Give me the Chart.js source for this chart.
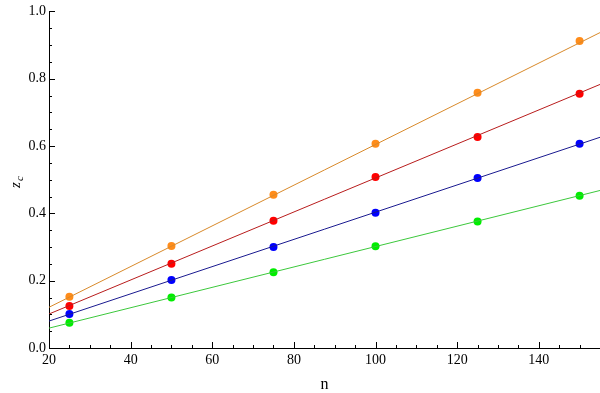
<!DOCTYPE html>
<html>
<head>
<meta charset="utf-8">
<script src="https://cdn.jsdelivr.net/npm/chart.js@4"></script>
<style>
    html, body { margin: 0; padding: 0; background: #ffffff; }
    #wrap { width: 600px; height: 393px; }
</style>
</head>
<body>
<div id="wrap"><canvas id="chart"></canvas></div>
<script>
// Sample points (n values) and measured z_c per series
const nValues = [25, 50, 75, 100, 125, 150];
const orangeZ = [0.152, 0.303, 0.455, 0.607, 0.758, 0.912];
const redZ = [0.125, 0.250, 0.378, 0.508, 0.627, 0.755];
const blueZ = [0.101, 0.202, 0.300, 0.402, 0.505, 0.607];
const greenZ = [0.075, 0.150, 0.225, 0.302, 0.376, 0.452];

// Fit lines, read at the plot edges
const lineN = [20, 155];
const orangeFit = [0.121, 0.937];
const redFit = [0.101, 0.783];
const blueFit = [0.080, 0.626];
const greenFit = [0.059, 0.468];

// Axis tick labels
const xTicks = [20, 40, 60, 80, 100, 120, 140];
const yTicks = [0.0, 0.2, 0.4, 0.6, 0.8, 1.0];
const xMinorStep = 5;
const yMinorStep = 0.05;

const FONT = '"Liberation Serif", "DejaVu Serif", serif';

function pts(xs, ys) {
    return xs.map((x, i) => ({ x: x, y: ys[i] }));
}

function fitLine(ys, color) {
    return {
        type: 'line',
        data: pts(lineN, ys),
        borderColor: color,
        borderWidth: 1,
        pointRadius: 0,
        fill: false
    };
}

function dots(ys, color) {
    return {
        type: 'scatter',
        data: pts(nValues, ys),
        backgroundColor: color,
        borderColor: color,
        pointRadius: 4,
        borderWidth: 0
    };
}

/**
 * Draws inward-facing ticks and the z_c axis label
 */
const frameTicksPlugin = {
    id: 'frameTicks',
    afterDraw: function(chart) {
        const ctx = chart.ctx;
        const xs = chart.scales.x;
        const ys = chart.scales.y;
        const area = chart.chartArea;
        ctx.save();
        ctx.strokeStyle = '#000';
        ctx.lineWidth = 1;
        ctx.beginPath();
        // x ticks
        for (let v = xs.min; v <= xs.max + 1e-9; v += xMinorStep) {
            const px = Math.round(xs.getPixelForValue(v)) + 0.5;
            const major = xTicks.includes(v);
            const len = major ? 6 : 3;
            ctx.moveTo(px, area.bottom);
            ctx.lineTo(px, area.bottom - len);
        }
        // y ticks
        for (let k = 0; k <= 20; k++) {
            const v = k * yMinorStep;
            const py = Math.round(ys.getPixelForValue(v)) + 0.5;
            const len = (k % 4 === 0) ? 6 : 3;
            ctx.moveTo(area.left, py);
            ctx.lineTo(area.left + len, py);
        }
        ctx.stroke();

        // y axis title: italic z with subscript c
        ctx.translate(16, 182);
        ctx.rotate(-Math.PI / 2);
        ctx.fillStyle = '#000';
        ctx.textBaseline = 'alphabetic';
        ctx.font = 'italic 15px ' + FONT;
        ctx.fillText('z', -6, 4);
        ctx.font = 'italic 11px ' + FONT;
        ctx.fillText('c', 1, 7);
        ctx.restore();
    }
};

const ctx = document.getElementById('chart').getContext('2d');
new Chart(ctx, {
    data: {
        datasets: [
            fitLine(orangeFit, '#d8892a'),
            fitLine(redFit, '#b81c1c'),
            fitLine(blueFit, '#1a1a90'),
            fitLine(greenFit, '#3cc83c'),
            dots(orangeZ, '#ff8c1a'),
            dots(redZ, '#ff0000'),
            dots(blueZ, '#0000ff'),
            dots(greenZ, '#00ee00')
        ]
    },
    options: {
        responsive: true,
        maintainAspectRatio: false,
        animation: false,
        layout: {
            autoPadding: false,
            padding: { top: 8, right: 0, left: 0, bottom: 0 }
        },
        plugins: {
            legend: { display: false },
            tooltip: { enabled: false }
        },
        scales: {
            x: {
                type: 'linear',
                min: 20,
                max: 155,
                afterBuildTicks: function(scale) {
                    scale.ticks = xTicks.map(v => ({ value: v }));
                },
                afterFit: function(scale) {
                    scale.height = 45;
                    scale.paddingRight = 0;
                },
                grid: { display: false, drawTicks: false },
                border: { display: true, color: '#000', width: 1 },
                ticks: {
                    color: '#000',
                    padding: 4,
                    maxRotation: 0,
                    font: { family: FONT, size: 14 }
                },
                title: {
                    display: true,
                    text: 'n',
                    color: '#000',
                    padding: { top: 12, bottom: -1 },
                    font: { family: FONT, size: 16 }
                }
            },
            y: {
                type: 'linear',
                min: 0,
                max: 1.0,
                afterBuildTicks: function(scale) {
                    scale.ticks = yTicks.map(v => ({ value: v }));
                },
                afterFit: function(scale) { scale.width = 49; },
                grid: { display: false, drawTicks: false },
                border: { display: true, color: '#000', width: 1 },
                ticks: {
                    color: '#000',
                    padding: 3,
                    font: { family: FONT, size: 14 },
                    callback: function(value) { return value.toFixed(1); }
                }
            }
        }
    },
    plugins: [frameTicksPlugin]
});
</script>
</body>
</html>
